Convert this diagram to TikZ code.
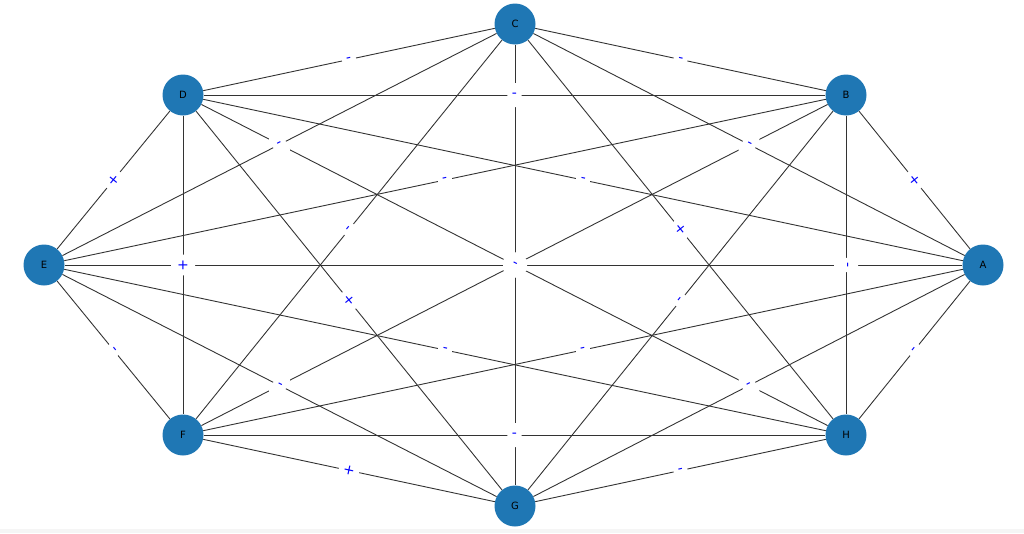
\documentclass[tikz,border=0pt]{standalone}
\usepackage{fontspec}
\newfontfamily\dejavu{DejaVu Sans}
\definecolor{nodeblue}{HTML}{1F77B4}
\begin{document}
\begin{tikzpicture}[x=1pt,y=-1pt,
  vert/.style={circle,fill=nodeblue,minimum size=41pt,inner sep=0pt,font=\dejavu\fontsize{10}{10}\selectfont,text=black},
  edgeline/.style={draw=black!80,line width=0.9pt},
  lbl/.style={sloped,fill=white,rounded corners=3pt,text=blue,font=\dejavu\fontsize{14}{14}\selectfont,inner xsep=4.5pt,inner ysep=0pt,minimum height=24pt}]
\useasboundingbox (0,0) rectangle (1024,533);
\fill[gray!8] (0,529) rectangle (1024,533);
\node[vert] (A) at (983,265) {A};
\node[vert] (B) at (846,95) {B};
\node[vert] (C) at (515,24) {C};
\node[vert] (D) at (183,95) {D};
\node[vert] (E) at (44,265) {E};
\node[vert] (F) at (183,435) {F};
\node[vert] (G) at (515,506) {G};
\node[vert] (H) at (846,435) {H};
\foreach \a/\b in {A/B,A/C,A/D,A/E,A/F,A/G,A/H,B/C,B/D,B/E,B/F,B/G,B/H,C/D,C/E,C/F,C/G,C/H,D/E,D/F,D/G,D/H,E/F,E/G,E/H,F/G,F/H,G/H}
  \draw[edgeline] (\a) -- (\b);
\foreach \a/\b/\s in {A/B/+,A/C/-,A/D/-,A/E/-,A/F/-,A/G/-,A/H/-,B/C/-,B/D/-,B/E/-,B/F/-,B/G/-,B/H/-,C/D/-,C/E/-,C/F/-,C/G/-,C/H/+,D/E/+,D/F/+,D/G/+,E/F/-,E/G/-,E/H/-,F/G/+,F/H/-,G/H/-,D/H/-}
  \path (\a) -- node[lbl] {\s} (\b);
\end{tikzpicture}
\end{document}
